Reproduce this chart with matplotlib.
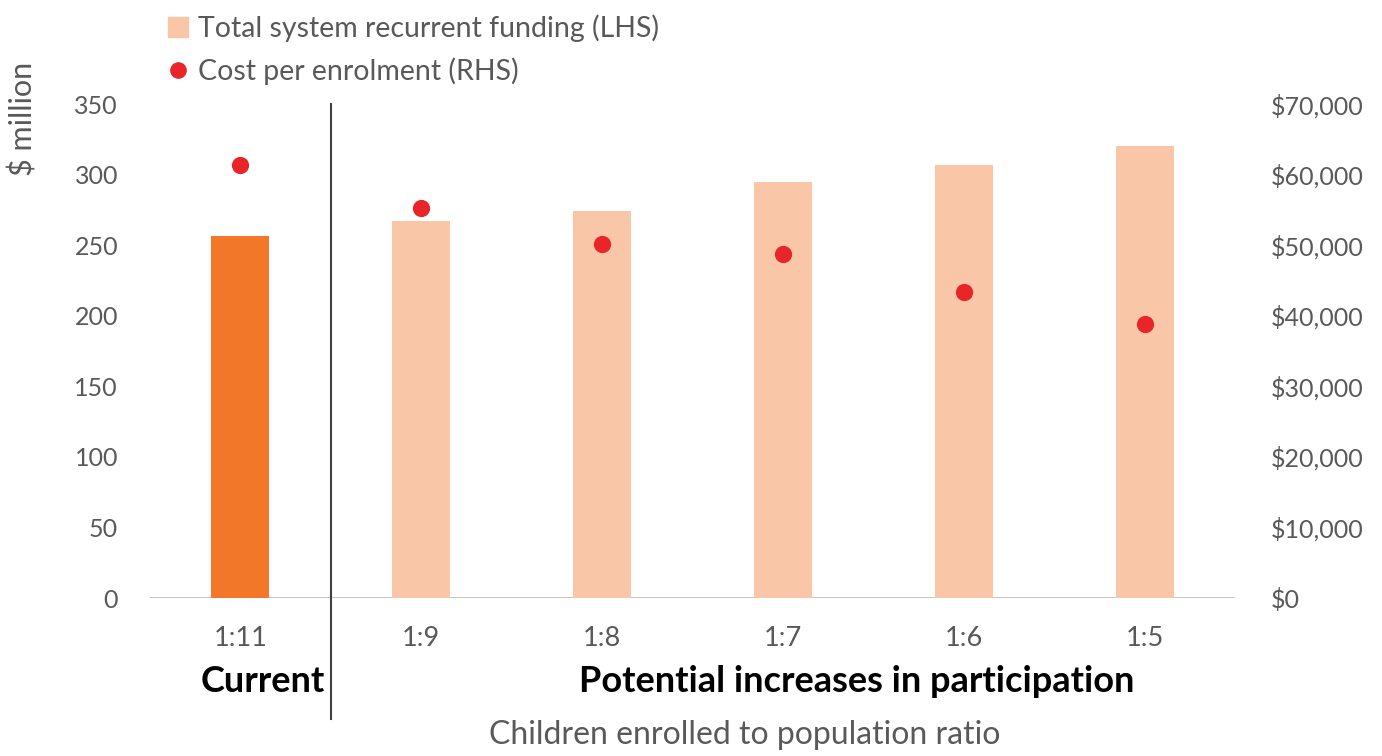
import matplotlib.pyplot as plt
from matplotlib.lines import Line2D
from matplotlib.patches import Patch

plt.rcParams['font.family'] = ['Lato', 'DejaVu Sans']

# data
ratios = ['1:11', '1:9', '1:8', '1:7', '1:6', '1:5']
funding = [256.5, 267, 274, 295, 307, 320]           # $ million (LHS)
cost_per_enrol = [61400, 55300, 50200, 48700, 43400, 38800]  # $ (RHS)
left_ticks = [0, 50, 100, 150, 200, 250, 300, 350]
right_ticks = [0, 10000, 20000, 30000, 40000, 50000, 60000, 70000]

grey = '#595959'
bar_colors = ['#F27729'] + ['#F9C6A7'] * 5

fig = plt.figure(figsize=(13.82, 7.56), dpi=100)
ax = fig.add_axes([150 / 1382, 1 - 598 / 756, 1085 / 1382, 494 / 756])
ax2 = ax.twinx()

x = list(range(len(ratios)))
ax.bar(x, funding, width=0.32, color=bar_colors, zorder=2)
ax2.scatter(x, cost_per_enrol, s=130, color='#E8262A', zorder=3)

ax.set_xlim(-0.5, 5.5)
ax.set_ylim(0, 350)
ax2.set_ylim(0, 70000)
ax.set_yticks(left_ticks)
ax2.set_yticks(right_ticks)
ax2.set_yticklabels(['${:,}'.format(v) for v in right_ticks])
ax.set_xticks(x)
ax.set_xticklabels(ratios)

for a in (ax, ax2):
    for s in a.spines.values():
        s.set_visible(False)
    a.tick_params(length=0, labelsize=18, colors=grey)
ax.tick_params(axis='y', pad=23)
ax2.tick_params(axis='y', pad=26)
ax.tick_params(axis='x', pad=20, labelsize=19.5)
ax.axhline(0, color='#BFBFBF', lw=2, zorder=1)

# divider between current and scenarios
ax.plot([0.5, 0.5], [350, -86], color='#404040', lw=1.5, clip_on=False, zorder=4)

ax.text(0.465, -59, 'Current', ha='right', va='center', fontsize=26,
        fontweight='bold', color='black')
ax.text(3.41, -59, 'Potential increases in participation', ha='center',
        va='center', fontsize=26, fontweight='bold', color='black')
fig.text(745 / 1382, 1 - 735 / 756, 'Children enrolled to population ratio',
         ha='center', va='center', fontsize=23, color=grey)
fig.text(23 / 1382, 1 - 119 / 756, '$ million', rotation=90, ha='center',
         va='center', fontsize=22, color=grey)

handles = [Patch(color='#F9C6A7', label='Total system recurrent funding (LHS)'),
           Line2D([], [], marker='o', ls='', color='#E8262A', markersize=11,
                  label='Cost per enrolment (RHS)')]
leg = fig.legend(handles=handles, loc='upper left', bbox_to_anchor=(142 / 1382, 1.015),
                 frameon=False, fontsize=20.5, handlelength=0.7, handletextpad=0.35,
                 labelspacing=0.55)
for t in leg.get_texts():
    t.set_color(grey)

fig.savefig('out.png', dpi=100)
